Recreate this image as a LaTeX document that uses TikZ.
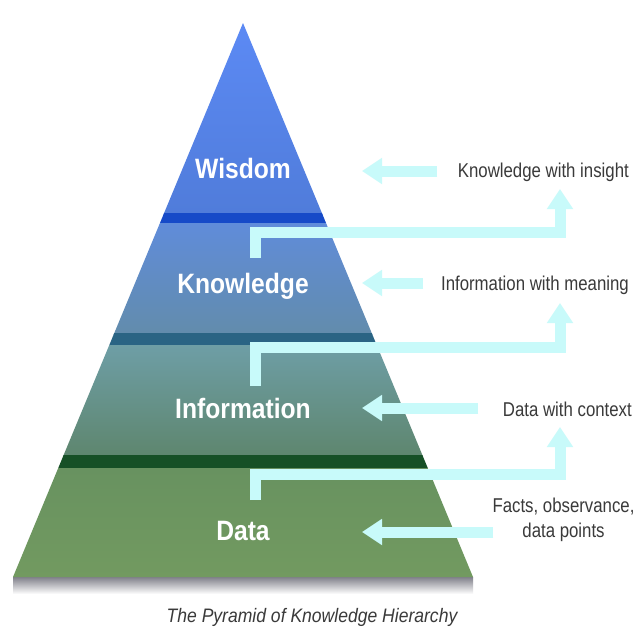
\documentclass[tikz,border=0pt]{standalone}
\usepackage{fontspec}
\setmainfont{Liberation Sans}
\newfontfamily\levelfont[FakeStretch=0.88]{Liberation Sans}
\newfontfamily\notefont[FakeStretch=0.84]{Liberation Sans}
\newfontfamily\captionfont[FakeStretch=0.9]{Liberation Sans}
\usetikzlibrary{arrows.meta}

\definecolor{wisdomtop}{RGB}{92,138,245}
\definecolor{wisdombot}{RGB}{80,124,218}
\definecolor{wisdomband}{RGB}{22,74,200}
\definecolor{knowtop}{RGB}{96,140,218}
\definecolor{knowbot}{RGB}{98,140,172}
\definecolor{knowband}{RGB}{42,100,132}
\definecolor{infotop}{RGB}{110,158,166}
\definecolor{infobot}{RGB}{94,134,110}
\definecolor{infoband}{RGB}{22,80,38}
\definecolor{datatop}{RGB}{104,146,96}
\definecolor{databot}{RGB}{114,154,96}
\definecolor{shadowgray}{RGB}{128,128,138}
\definecolor{hint}{RGB}{200,250,250}
\definecolor{notegray}{RGB}{58,58,58}

\begin{document}
\begin{tikzpicture}[x=1pt,y=-1pt,
    level/.style={text=white, anchor=base, font=\levelfont\bfseries\fontsize{28}{30}\selectfont},
    note/.style={text=notegray, anchor=base east, inner sep=0pt, font=\notefont\fontsize{20}{25}\selectfont},
    hintarrow/.style={draw=hint, line width=11pt, -{Triangle[length=20pt,width=25pt]}},
    elbow/.style={hintarrow, line join=miter}]

    \useasboundingbox[fill=white] (0,0) rectangle (636,630);

    % corners of the pyramid
    \coordinate (apex) at (243,23);
    \coordinate (baseL) at (13,577);
    \coordinate (baseR) at (473,577);

    % shadow below the base
    \shade[top color=shadowgray, bottom color=white] (13,577) rectangle (473,594);

    % layers
    \begin{scope}
        \clip (apex) -- (baseL) -- (baseR) -- cycle;
        \shade[top color=wisdomtop, bottom color=wisdombot] (0,20) rectangle (636,214);
        \fill[wisdomband] (0,213) rectangle (636,223);
        \shade[top color=knowtop, bottom color=knowbot] (0,223) rectangle (636,334);
        \fill[knowband] (0,333) rectangle (636,345);
        \shade[top color=infotop, bottom color=infobot] (0,345) rectangle (636,456);
        \fill[infoband] (0,455) rectangle (636,468);
        \shade[top color=datatop, bottom color=databot] (0,468) rectangle (636,578);
    \end{scope}

    % level names
    \node[level] (wisdom) at (243,178) {Wisdom};
    \node[level] (knowledge) at (243,293) {Knowledge};
    \node[level] (information) at (243,418) {Information};
    \node[level] (data) at (243,540) {Data};

    % descriptions
    \node[note] (insight) at (629,177) {Knowledge with insight};
    \node[note] (meaning) at (629,290) {Information with meaning};
    \node[note] (context) at (632,416) {Data with context};
    \node[note, align=center, anchor=center] (facts) at (563.5,520) {Facts, observance,\\data points};

    % arrows into the pyramid
    \coordinate (w-tail) at (437,171);
    \coordinate (w-tip) at (362,171);
    \coordinate (k-tail) at (423,283);
    \coordinate (k-tip) at (362,283);
    \coordinate (i-tail) at (478,408);
    \coordinate (i-tip) at (362,408);
    \coordinate (d-tail) at (493,532);
    \coordinate (d-tip) at (362,532);
    \draw[hintarrow] (w-tail) -- (w-tip);
    \draw[hintarrow] (k-tail) -- (k-tip);
    \draw[hintarrow] (i-tail) -- (i-tip);
    \draw[hintarrow] (d-tail) -- (d-tip);

    % arrows out to the next level up
    \coordinate (k-stem) at (255,258);
    \coordinate (k-turn) at (560,232);
    \coordinate (k-top) at (560,189);
    \coordinate (i-stem) at (255,386);
    \coordinate (i-turn) at (560,347);
    \coordinate (i-top) at (560,303);
    \coordinate (d-stem) at (255,500);
    \coordinate (d-turn) at (560,474);
    \coordinate (d-top) at (560,427);
    \draw[elbow] (k-stem) |- (k-turn) -- (k-top);
    \draw[elbow] (i-stem) |- (i-turn) -- (i-top);
    \draw[elbow] (d-stem) |- (d-turn) -- (d-top);

    % caption
    \node[text=notegray, anchor=base, font=\captionfont\itshape\fontsize{19.5}{22}\selectfont] (caption) at (312,622) {The Pyramid of Knowledge Hierarchy};
\end{tikzpicture}
\end{document}
